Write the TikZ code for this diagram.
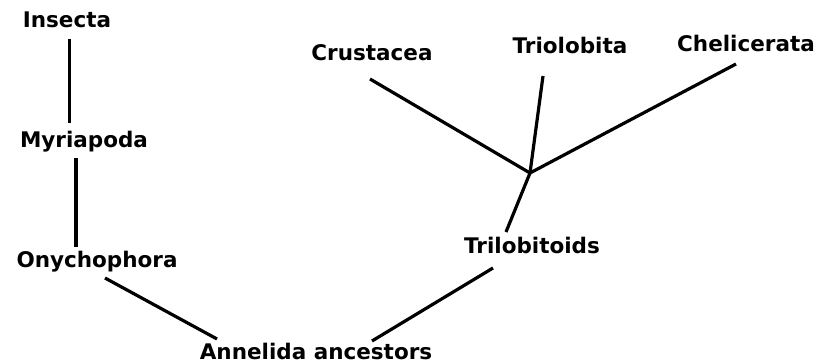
\documentclass[tikz,border=0pt]{standalone}
\usepackage{fontspec}
\setmainfont{DejaVu Sans}
\begin{document}
\begin{tikzpicture}[x=1pt,y=-1pt,
  taxon/.style={font=\bfseries\fontsize{21.5}{24}\selectfont, inner sep=0pt, anchor=center},
  branch/.style={line width=3.2pt, line cap=butt}]
\useasboundingbox (0,0) rectangle (836,363);
\fill[white] (0,0) rectangle (836,363);

% taxa
\node[taxon] (ins) at (67,20) {Insecta};
\node[taxon] (myr) at (84,142) {Myriapoda};
\node[taxon] (ony) at (97,262) {Onychophora};
\node[taxon] (ann) at (316,351) {Annelida ancestors};
\node[taxon] (tbd) at (532,245) {Trilobitoids};
\node[taxon] (cru) at (372,53) {Crustacea};
\node[taxon] (tri) at (570,45) {Triolobita};
\node[taxon] (che) at (746,43) {Chelicerata};

% branch ends
\coordinate (ins-b) at (69.5,39);
\coordinate (myr-t) at (69.5,123);
\coordinate (myr-b) at (76,158);
\coordinate (ony-t) at (76,247);
\coordinate (ony-b) at (105,278);
\coordinate (ann-l) at (217,339);
\coordinate (ann-r) at (372,341);
\coordinate (tbd-b) at (493,268);
\coordinate (tbd-t) at (506,232);
\coordinate (fork) at (530,173);
\coordinate (cru-b) at (370,79);
\coordinate (tri-b) at (543,76);
\coordinate (che-b) at (736,64);

% branches
\draw[branch] (ins-b) -- (myr-t);
\draw[branch] (myr-b) -- (ony-t);
\draw[branch] (ony-b) -- (ann-l);
\draw[branch] (ann-r) -- (tbd-b);
\draw[branch] (tbd-t) -- (fork);
\draw[branch] (cru-b) -- (fork);
\draw[branch] (tri-b) -- (fork);
\draw[branch] (che-b) -- (fork);
\end{tikzpicture}
\end{document}
